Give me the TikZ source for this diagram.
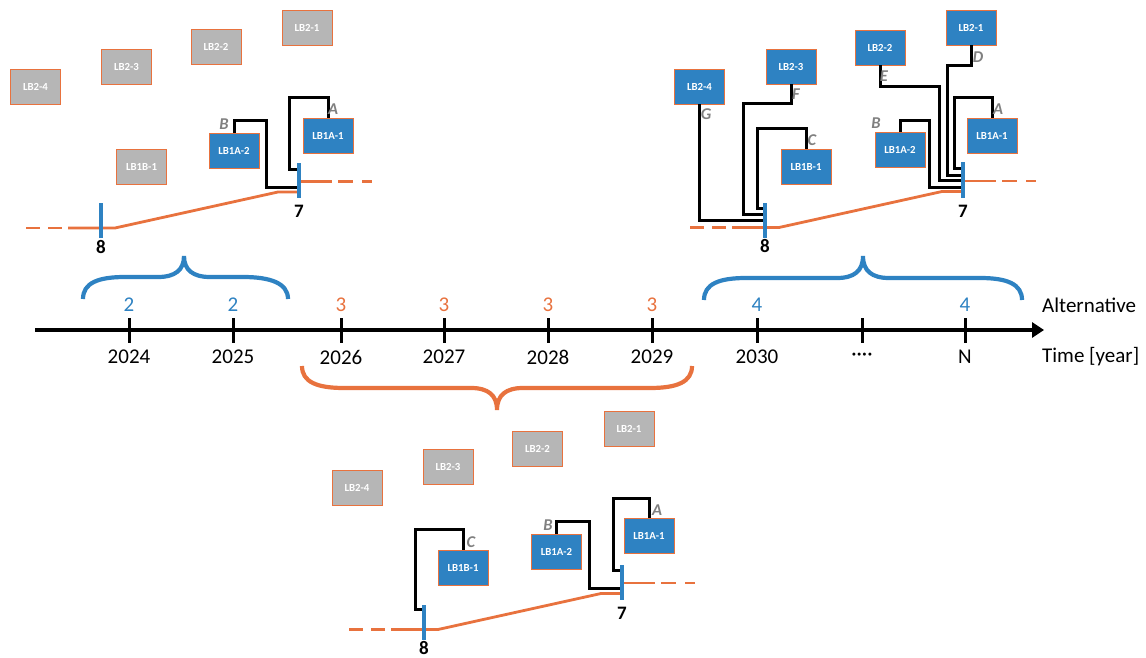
\documentclass[tikz,border=0pt]{standalone}
\usepackage{fontspec}
\setmainfont{Carlito}
\usetikzlibrary{arrows.meta}
\definecolor{lbblue}{RGB}{46,130,194}
\definecolor{lborange}{RGB}{232,114,62}
\definecolor{lbgrey}{RGB}{182,182,182}
\definecolor{tagrey}{RGB}{128,128,128}

% One time-step panel: steps 8 -> 7 with the orange path between them
\tikzset{
  panel/.pic={
    \draw[oline] (1,1) -- (33,1);
    \draw[oline,dash pattern=on 15pt off 9pt] (39,1) -- (73,1);
    \draw[oline,dash pattern=on 14pt off 8pt] (-273,47.5) -- (-237,47.5);
    \draw[oline] (-231,47.5) -- (-184,47.5) -- (-21,11.5) -- (0,11.5);
    \node[bar] (b7) at (0,0) {};
    \node[bar] (b8) at (-198,40) {};
    \node[stepnum] (n7) at (0,31) {7};
    \node[stepnum] (n8) at (-198,66.5) {8};
  }
}

\begin{document}
\begin{tikzpicture}[x=1pt,y=-1pt,
  box/.style={draw=lborange,line width=0.9pt,minimum width=50pt,minimum height=35pt,
    inner sep=0pt,text=white,font=\bfseries\fontsize{10.8}{12}\selectfont},
  gbox/.style={box,fill=lbgrey},
  bbox/.style={box,fill=lbblue},
  conn/.style={draw=black,line width=3pt,line join=miter},
  tag/.style={text=tagrey,font=\bfseries\itshape\fontsize{16.5}{18}\selectfont,inner sep=0pt},
  oline/.style={draw=lborange,line width=2.8pt},
  bar/.style={fill=lbblue,draw=none,minimum width=4pt,minimum height=35pt,inner sep=0pt},
  stepnum/.style={font=\bfseries\fontsize{19}{21}\selectfont,inner sep=0pt},
  yr/.style={font=\fontsize{21}{24}\selectfont,inner sep=0pt},
  brace/.style={line width=4.2pt,line cap=butt},
  tick/.style={line width=3pt}
]
\useasboundingbox (0,0) rectangle (1146,658);

% ---------- time axis ----------
\coordinate (tstart) at (35,330);
\coordinate (tend) at (1044,330);
\draw[line width=3.5pt,-{Triangle[length=12pt,width=15pt]}] (tstart) -- (tend);
\foreach \x/\lab [count=\i] in {129/2024,233/2025,341/2026,444/2027,548/2028,652/2029,757/2030,862/{····},965/N}{
  \draw[tick] (\x,318) -- (\x,343);
  \node[yr] (yr\i) at (\x,357) {\lab};
}
\foreach \x/\v/\c [count=\i] in {129/2/lbblue,233/2/lbblue,341/3/lborange,444/3/lborange,
  548/3/lborange,652/3/lborange,757/4/lbblue,965/4/lbblue}{
  \node[yr,text=\c] (alt\i) at (\x,305) {\v};
}
\node[yr,anchor=west] (altlab) at (1042,305) {Alternative};
\node[yr,anchor=west] (timelab) at (1042,357) {Time [year]};

% ---------- braces ----------
\draw[brace,lbblue] (83,299) .. controls (83,283) and (98,277) .. (125,277) -- (158,277)
  .. controls (175,277) and (184,270) .. (184,256)
  .. controls (184,270) and (193,277) .. (210,277) -- (243,277)
  .. controls (270,277) and (288,283) .. (288,299);
\draw[brace,lbblue] (704,300) .. controls (704,284) and (719,278) .. (746,278) -- (837,278)
  .. controls (854,278) and (863,271) .. (863,256)
  .. controls (863,271) and (872,278) .. (889,278) -- (980,278)
  .. controls (1007,278) and (1022,284) .. (1022,300);
\draw[brace,lborange] (302,366) .. controls (302,382) and (317,388) .. (344,388) -- (471,388)
  .. controls (488,388) and (497,395) .. (497,410)
  .. controls (497,395) and (506,388) .. (523,388) -- (650,388)
  .. controls (677,388) and (692,382) .. (692,366);

% ---------- alternative 2 ----------
\pic (tl) at (299,180.5) {panel};
\node[gbox] (tlL24) at (35.5,86.5) {LB2-4};
\node[gbox] (tlL23) at (126.5,66.5) {LB2-3};
\node[gbox] (tlL22) at (216,46.5) {LB2-2};
\node[gbox] (tlL21) at (307,27.5) {LB2-1};
\node[gbox] (tlB1) at (141.5,166.5) {LB1B-1};
\node[bbox] (tlA2) at (234,151) {LB1A-2};
\node[bbox] (tlA1) at (328,135.5) {LB1A-1};
\draw[conn] (tlA1.north) |- (289,98) |- (tlb7.west |- 0,170);
\draw[conn] (tlA2.north) |- (266,121) |- (tlb7.west |- 0,187);
\node[tag] (tlta) at (333,109) {A};
\node[tag] (tltb) at (224,124) {B};

% ---------- alternative 4 ----------
\pic (tr) at (963,180) {panel};
\node[bbox] (trL24) at (699.5,86.5) {LB2-4};
\node[bbox] (trL23) at (791,66.5) {LB2-3};
\node[bbox] (trL22) at (880,47.5) {LB2-2};
\node[bbox] (trL21) at (971,27.5) {LB2-1};
\node[bbox] (trB1) at (806,166.5) {LB1B-1};
\node[bbox] (trA2) at (900,150) {LB1A-2};
\node[bbox] (trA1) at (992,135.5) {LB1A-1};
\draw[conn] (trA1.north) |- (954,98) |- (trb7.west |- 0,169);
\draw[conn] (trL21.south) |- (947,66) |- (trb7.west |- 0,175);
\draw[conn] (trL22.south) |- (939,87) |- (trb7.west |- 0,180);
\draw[conn] (trA2.north) |- (929,121) |- (trb7.west |- 0,187);
\draw[conn] (trL24.south) |- (trb8.west |- 0,220);
\draw[conn] (trL23.south) |- (743,104) |- (trb8.west |- 0,214);
\draw[conn] (trB1.north) |- (757,129) |- (trb8.west |- 0,208);
\node[tag] (trta) at (998,109) {A};
\node[tag] (trtb) at (876,123) {B};
\node[tag] (trtc) at (812,140) {C};
\node[tag] (trtd) at (978,57) {D};
\node[tag] (trte) at (884,76) {E};
\node[tag] (trtf) at (796,94) {F};
\node[tag] (trtg) at (706,114) {G};

% ---------- alternative 3 ----------
\pic (bt) at (622,582) {panel};
\node[gbox] (btL24) at (357,488) {LB2-4};
\node[gbox] (btL23) at (448,467) {LB2-3};
\node[gbox] (btL22) at (537.5,448.5) {LB2-2};
\node[gbox] (btL21) at (629,428.5) {LB2-1};
\node[bbox] (btB1) at (463,567.5) {LB1B-1};
\node[bbox] (btA2) at (556.5,552) {LB1A-2};
\node[bbox] (btA1) at (649,536) {LB1A-1};
\draw[conn] (btA1.north) |- (613,498) |- (btb7.west |- 0,570);
\draw[conn] (btA2.north) |- (589,521) |- (btb7.west |- 0,588);
\draw[conn] (btB1.north) |- (415,529) |- (btb8.west |- 0,609);
\node[tag] (btta) at (657,510) {A};
\node[tag] (bttb) at (548,525) {B};
\node[tag] (bttc) at (471,542) {C};
\end{tikzpicture}
\end{document}
